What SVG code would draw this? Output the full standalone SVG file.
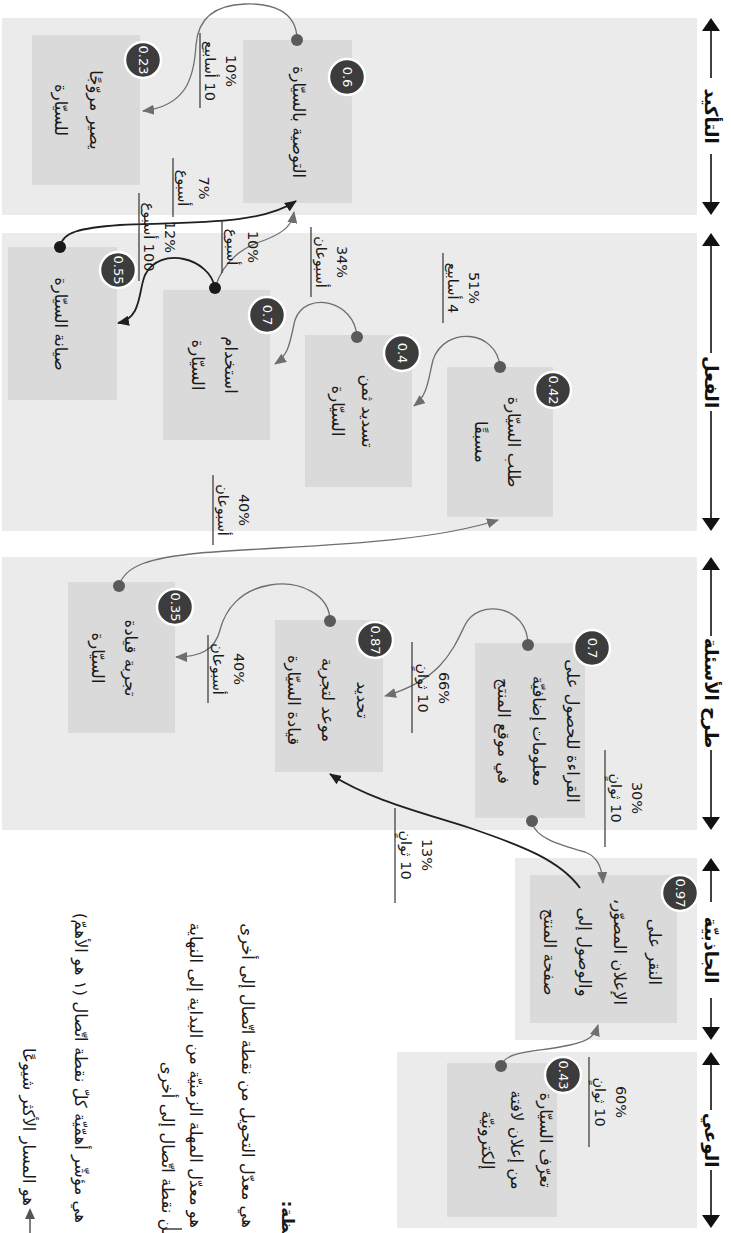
<svg xmlns="http://www.w3.org/2000/svg" width="731" height="1233" viewBox="0 0 731 1233">
<defs>
<style>
text{font-family:"DejaVu Sans",sans-serif;}
.nt{font-size:16.5px;fill:#1a1a1a;text-anchor:middle;dominant-baseline:central;direction:rtl;}
.st{font-size:18px;font-weight:bold;fill:#111;text-anchor:middle;dominant-baseline:central;direction:rtl;}
.bt{font-size:13px;fill:#fff;text-anchor:middle;dominant-baseline:central;}
.lt{font-size:14.5px;fill:#1a1a1a;text-anchor:middle;dominant-baseline:central;direction:rtl;}
.lg{font-size:16.5px;fill:#1a1a1a;text-anchor:end;dominant-baseline:central;}
.panel{fill:#ebebeb;}
.box{fill:#dadada;}
.badge{fill:#3c3c3c;stroke:#fff;stroke-width:2.5;}
.dot{fill:#5a5a5a;}
.dotk{fill:#1a1a1a;}
.cg{fill:none;stroke:#6e6e6e;stroke-width:1.3;marker-end:url(#ag);}
.ck{fill:none;stroke:#1f1f1f;stroke-width:1.8;marker-end:url(#ak);}
.ul{stroke:#333;stroke-width:1.2;}
.sl{stroke:#111;stroke-width:1.6;}
.ah{fill:#111;}
</style>
<marker id="ag" viewBox="0 0 12 10" refX="11" refY="5" markerWidth="12" markerHeight="10" markerUnits="userSpaceOnUse" orient="auto"><path d="M0,0 L12,5 L0,10 z" fill="#6e6e6e"/></marker>
<marker id="ak" viewBox="0 0 12 10" refX="11" refY="5" markerWidth="12" markerHeight="10" markerUnits="userSpaceOnUse" orient="auto"><path d="M0,0 L12,5 L0,10 z" fill="#1f1f1f"/></marker>
</defs>
<rect width="731" height="1233" fill="#fff"/>

<g id="panels">
<rect class="panel" x="2" y="18" width="695" height="197"/>
<rect class="panel" x="2" y="233" width="695" height="298"/>
<rect class="panel" x="2" y="557" width="695" height="273"/>
<rect class="panel" x="515" y="858" width="182" height="182"/>
<rect class="panel" x="397" y="1052" width="300" height="176"/>
</g>

<g id="stages">
<g id="stage-advocacy">
<line class="sl" x1="711" y1="28" x2="711" y2="205"/>
<polygon class="ah" points="711,18 702,31 720,31"/>
<polygon class="ah" points="711,215 702,202 720,202"/>
<rect x="699" y="78" width="24" height="76" fill="#fff"/>
<text class="st" transform="translate(711 116) rotate(90)">التأكيد</text>
</g>
<g id="stage-act">
<line class="sl" x1="711" y1="243" x2="711" y2="521"/>
<polygon class="ah" points="711,233 702,246 720,246"/>
<polygon class="ah" points="711,531 702,518 720,518"/>
<rect x="699" y="353" width="24" height="58" fill="#fff"/>
<text class="st" transform="translate(711 382) rotate(90)">الفعل</text>
</g>
<g id="stage-ask">
<line class="sl" x1="711" y1="567" x2="711" y2="820"/>
<polygon class="ah" points="711,557 702,570 720,570"/>
<polygon class="ah" points="711,830 702,817 720,817"/>
<rect x="699" y="636" width="24" height="114" fill="#fff"/>
<text class="st" transform="translate(711 693) rotate(90)">طرح الأسئلة</text>
</g>
<g id="stage-appeal">
<line class="sl" x1="711" y1="868" x2="711" y2="1030"/>
<polygon class="ah" points="711,858 702,871 720,871"/>
<polygon class="ah" points="711,1040 702,1027 720,1027"/>
<rect x="699" y="902" width="24" height="96" fill="#fff"/>
<text class="st" transform="translate(711 950) rotate(90)">الجاذبيّة</text>
</g>
<g id="stage-aware">
<line class="sl" x1="711" y1="1062" x2="711" y2="1218"/>
<polygon class="ah" points="711,1052 702,1065 720,1065"/>
<polygon class="ah" points="711,1228 702,1215 720,1215"/>
<rect x="699" y="1110" width="24" height="60" fill="#fff"/>
<text class="st" transform="translate(711 1140) rotate(90)">الوعي</text>
</g>
</g>

<g id="n-recommend">
<rect class="box" x="243" y="40" width="109" height="163"/>
<text class="nt" transform="translate(298 122) rotate(90)">التوصية بالسيّارة</text>
</g>
<g id="n-advocate">
<rect class="box" x="32" y="35" width="108" height="150"/>
<text class="nt" transform="translate(95 110) rotate(90)">يصير مروّجًا</text>
<text class="nt" transform="translate(60 110) rotate(90)">للسيّارة</text>
</g>
<g id="n-preorder">
<rect class="box" x="447" y="367" width="106" height="150"/>
<text class="nt" transform="translate(513 442) rotate(90)">طلب السيّارة</text>
<text class="nt" transform="translate(480 442) rotate(90)">مسبقًا</text>
</g>
<g id="n-pay">
<rect class="box" x="305" y="335" width="107" height="152"/>
<text class="nt" transform="translate(367 411) rotate(90)">تسديد ثمن</text>
<text class="nt" transform="translate(337 411) rotate(90)">السيّارة</text>
</g>
<g id="n-use">
<rect class="box" x="163" y="290" width="107" height="150"/>
<text class="nt" transform="translate(230 365) rotate(90)">استخدام</text>
<text class="nt" transform="translate(197 365) rotate(90)">السيّارة</text>
</g>
<g id="n-service">
<rect class="box" x="8" y="247" width="109" height="153"/>
<text class="nt" transform="translate(60 324) rotate(90)">صيانة السيّارة</text>
</g>
<g id="n-read">
<rect class="box" x="475" y="643" width="110" height="175"/>
<text class="nt" transform="translate(572 731) rotate(90)">القراءة للحصول على</text>
<text class="nt" transform="translate(538 731) rotate(90)">معلومات إضافيّة</text>
<text class="nt" transform="translate(503 731) rotate(90)">في موقع المنتج</text>
</g>
<g id="n-schedule">
<rect class="box" x="275" y="620" width="108" height="152"/>
<text class="nt" transform="translate(362 700) rotate(90)">تحديد</text>
<text class="nt" transform="translate(327 700) rotate(90)">موعد لتجربة</text>
<text class="nt" transform="translate(293 700) rotate(90)">قيادة السيّارة</text>
</g>
<g id="n-testdrive">
<rect class="box" x="68" y="582" width="107" height="151"/>
<text class="nt" transform="translate(130 658) rotate(90)">تجربة قيادة</text>
<text class="nt" transform="translate(97 658) rotate(90)">السيّارة</text>
</g>
<g id="n-click">
<rect class="box" x="530" y="875" width="147" height="148"/>
<text class="nt" transform="translate(654 952) rotate(90)">النقر على</text>
<text class="nt" transform="translate(619 952) rotate(90)">الإعلان المصوّر،</text>
<text class="nt" transform="translate(584 952) rotate(90)">والوصول إلى</text>
<text class="nt" transform="translate(549 952) rotate(90)">صفحة المنتج</text>
</g>
<g id="n-billboard">
<rect class="box" x="447" y="1063" width="110" height="154"/>
<text class="nt" transform="translate(545 1140) rotate(90)">تعرّف السيّارة</text>
<text class="nt" transform="translate(516 1140) rotate(90)">من إعلان لافتة</text>
<text class="nt" transform="translate(487 1140) rotate(90)">إلكترونيّة</text>
</g>

<g id="connectors">
<path class="cg" d="M297 40 C297 10 270 3 245 4 C215 5 198 18 196 45 C194 80 185 106 143 111"/>
<path class="ck" d="M60 247 C62 232 80 228 120 225 C200 222 262 224 296 201"/>
<path class="cg" d="M215 288 C225 255 250 245 265 240 C285 232 292 225 294 212"/>
<path class="ck" d="M215 288 C210 258 160 245 145 275 C138 292 142 318 118 323"/>
<path class="cg" d="M357 337 C355 300 305 290 295 320 C290 340 290 354 275 364"/>
<path class="cg" d="M500 367 C497 330 445 325 433 360 C428 380 428 395 414 406"/>
<path class="cg" d="M119 586 C125 565 150 558 200 553 C300 545 420 545 498 520"/>
<path class="cg" d="M330 621 C330 595 300 580 270 585 C240 590 225 610 220 630 C215 650 200 657 176 657"/>
<path class="cg" d="M528 645 C528 605 478 598 465 625 C452 652 440 680 385 696"/>
<path class="cg" d="M532 822 C535 838 560 845 585 852 C598 857 602 868 603 883"/>
<path class="ck" d="M580 888 C560 860 520 845 470 828 C420 812 370 800 330 774"/>
<path class="cg" d="M501 1066 C505 1050 540 1052 570 1045 C590 1041 595 1035 598 1025"/>
<circle class="dot" cx="297" cy="40" r="6"/>
<circle class="dot" cx="500" cy="367" r="6"/>
<circle class="dot" cx="357" cy="337" r="6"/>
<circle class="dotk" cx="215" cy="288" r="6"/>
<circle class="dotk" cx="60" cy="247" r="6"/>
<circle class="dot" cx="528" cy="645" r="6"/>
<circle class="dot" cx="532" cy="821" r="6"/>
<circle class="dot" cx="330" cy="621" r="6"/>
<circle class="dot" cx="119" cy="586" r="6"/>
<circle class="dot" cx="501" cy="1066" r="6"/>
</g>

<g id="badges">
<circle class="badge" cx="347" cy="77" r="18"/><text class="bt" transform="translate(347 77) rotate(90)">0.6</text>
<circle class="badge" cx="143" cy="60" r="18"/><text class="bt" transform="translate(143 60) rotate(90)">0.23</text>
<circle class="badge" cx="553" cy="390" r="18"/><text class="bt" transform="translate(553 390) rotate(90)">0.42</text>
<circle class="badge" cx="402" cy="353" r="18"/><text class="bt" transform="translate(402 353) rotate(90)">0.4</text>
<circle class="badge" cx="267" cy="315" r="18"/><text class="bt" transform="translate(267 315) rotate(90)">0.7</text>
<circle class="badge" cx="118" cy="270" r="18"/><text class="bt" transform="translate(118 270) rotate(90)">0.55</text>
<circle class="badge" cx="592" cy="648" r="18"/><text class="bt" transform="translate(592 648) rotate(90)">0.7</text>
<circle class="badge" cx="375" cy="640" r="18"/><text class="bt" transform="translate(375 640) rotate(90)">0.87</text>
<circle class="badge" cx="175" cy="607" r="18"/><text class="bt" transform="translate(175 607) rotate(90)">0.35</text>
<circle class="badge" cx="680" cy="893" r="18"/><text class="bt" transform="translate(680 893) rotate(90)">0.97</text>
<circle class="badge" cx="563" cy="1075" r="18"/><text class="bt" transform="translate(563 1075) rotate(90)">0.43</text>
</g>

<g id="labels">
<line class="ul" x1="200" y1="33" x2="200" y2="108"/>
<text class="lt" transform="translate(231 71) rotate(90)">10%</text>
<text class="lt" transform="translate(210 71) rotate(90)">10 أسابيع</text>

<line class="ul" x1="173" y1="158" x2="173" y2="217"/>
<text class="lt" transform="translate(204 188) rotate(90)">7%</text>
<text class="lt" transform="translate(183 188) rotate(90)">أسبوع</text>

<line class="ul" x1="222" y1="220" x2="222" y2="273"/>
<text class="lt" transform="translate(253 247) rotate(90)">10%</text>
<text class="lt" transform="translate(232 247) rotate(90)">أسبوع</text>

<line class="ul" x1="139" y1="193" x2="139" y2="281"/>
<text class="lt" transform="translate(170 237) rotate(90)">12%</text>
<text class="lt" transform="translate(149 237) rotate(90)">100 أسبوع</text>

<line class="ul" x1="311" y1="227" x2="311" y2="297"/>
<text class="lt" transform="translate(342 262) rotate(90)">34%</text>
<text class="lt" transform="translate(321 262) rotate(90)">أسبوعان</text>

<line class="ul" x1="443" y1="253" x2="443" y2="323"/>
<text class="lt" transform="translate(474 288) rotate(90)">51%</text>
<text class="lt" transform="translate(453 288) rotate(90)">4 أسابيع</text>

<line class="ul" x1="213" y1="475" x2="213" y2="545"/>
<text class="lt" transform="translate(244 510) rotate(90)">40%</text>
<text class="lt" transform="translate(223 510) rotate(90)">أسبوعان</text>

<line class="ul" x1="208" y1="635" x2="208" y2="703"/>
<text class="lt" transform="translate(239 669) rotate(90)">40%</text>
<text class="lt" transform="translate(218 669) rotate(90)">أسبوعان</text>

<line class="ul" x1="412" y1="642" x2="412" y2="733"/>
<text class="lt" transform="translate(444 688) rotate(90)">66%</text>
<text class="lt" transform="translate(423 688) rotate(90)">10 ثوانٍ</text>

<line class="ul" x1="605" y1="750" x2="605" y2="847"/>
<text class="lt" transform="translate(637 798) rotate(90)">30%</text>
<text class="lt" transform="translate(616 798) rotate(90)">10 ثوانٍ</text>

<line class="ul" x1="395" y1="808" x2="395" y2="903"/>
<text class="lt" transform="translate(427 855) rotate(90)">13%</text>
<text class="lt" transform="translate(406 855) rotate(90)">10 ثوانٍ</text>

<line class="ul" x1="589" y1="1057" x2="589" y2="1147"/>
<text class="lt" transform="translate(621 1102) rotate(90)">60%</text>
<text class="lt" transform="translate(600 1102) rotate(90)">10 ثوانٍ</text>
</g>

<g id="legend">
<text class="lg" font-weight="bold" transform="translate(287 1268) rotate(90)">&#x200F;ملاحظة:&#x200F;</text>
<text class="lg" transform="translate(247 1228) rotate(90)">&#x200F;هي معدّل التحويل من نقطة اتّصال إلى أخرى&#x200F;</text>
<text class="lg" transform="translate(195 1228) rotate(90)">&#x200F;هو معدّل المهلة الزمنيّة من البداية إلى النهاية&#x200F;</text>
<text class="lg" transform="translate(167 1240) rotate(90)">&#x200F;من نقطة اتّصال إلى أخرى&#x200F;</text>
<text class="lg" transform="translate(80 1223) rotate(90)">&#x200F;هي مؤشّر أهمّيّة كلّ نقطة اتّصال (١ هو الأهمّ)&#x200F;</text>
<text class="lg" transform="translate(28 1206) rotate(90)">&#x200F;هو المسار الأكثر شيوعًا&#x200F;</text>
<line x1="163" y1="1229" x2="182" y2="1229" stroke="#333" stroke-width="1.4"/>
<circle cx="80" cy="1245" r="12" fill="#3c3c3c"/>
<line x1="30" y1="1216" x2="30" y2="1240" stroke="#555" stroke-width="1.5"/>
<polygon points="30,1208 25,1219 35,1219" fill="#555"/>
</g>
</svg>
